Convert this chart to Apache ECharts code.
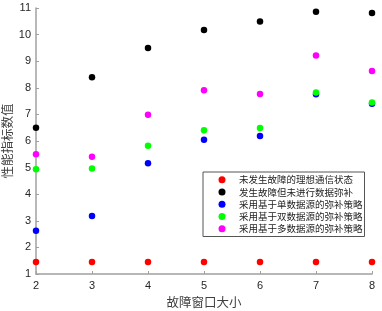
<!DOCTYPE html>
<html>
<head>
<meta charset="utf-8">
<script src="https://cdn.jsdelivr.net/npm/echarts@6/dist/echarts.min.js"></script>
<style>html,body{margin:0;padding:0;background:#fff}#c{width:382px;height:311px}</style>
</head>
<body>
<div id="c"></div>
<script>
const windowSizes = [2, 3, 4, 5, 6, 7, 8];
const seriesNames = ['未发生故障的理想通信状态', '发生故障但未进行数据弥补', '采用基于单数据源的弥补策略', '采用基于双数据源的弥补策略', '采用基于多数据源的弥补策略'];
const idealValues = [1.45, 1.45, 1.45, 1.45, 1.45, 1.45, 1.45];
const noCompValues = [6.5, 8.4, 9.5, 10.17, 10.49, 10.86, 10.81];
const singleValues = [2.63, 3.18, 5.16, 6.05, 6.19, 7.76, 7.40];
const doubleValues = [4.94, 4.97, 5.82, 6.40, 6.49, 7.82, 7.45];
const multiValues = [5.5, 5.41, 6.99, 7.91, 7.77, 9.21, 8.63];
const colors = ['#ff0000', '#000000', '#0000ff', '#00ff00', '#ff00ff'];
const allValues = [idealValues, noCompValues, singleValues, doubleValues, multiValues];

const chart = echarts.init(document.getElementById('c'));
const axisCommon = {
  axisLine: {show: true, lineStyle: {color: '#a0a0a0', width: 1.5}},
  axisTick: {show: true, inside: true, length: 3, lineStyle: {color: '#a0a0a0'}},
  splitLine: {show: false},
  axisLabel: {color: '#262626', fontSize: 11, fontFamily: 'Arial, Liberation Sans'},
  nameTextStyle: {color: '#404040', fontSize: 12.5, fontFamily: 'Noto Sans CJK SC'},
  nameMoveOverlap: false
};
chart.setOption({
  animation: false,
  grid: {left: 36, right: 10, top: 8, bottom: 37, containLabel: false, outerBoundsMode: 'none'},
  xAxis: Object.assign({}, axisCommon, {
    type: 'value', min: 2, max: 8, interval: 1,
    name: '故障窗口大小', nameLocation: 'middle', nameGap: 22,
    axisLabel: Object.assign({}, axisCommon.axisLabel, {margin: 6})
  }),
  yAxis: Object.assign({}, axisCommon, {
    type: 'value', min: 1, max: 11, interval: 1,
    name: '性能指标数值', nameLocation: 'middle', nameGap: 22.5, nameRotate: 90,
    axisLabel: Object.assign({}, axisCommon.axisLabel, {margin: 5})
  }),
  legend: {
    left: 203, top: 172, orient: 'vertical',
    padding: [2, 2, 2, 15.5],
    itemWidth: 7, itemHeight: 7, itemGap: 1,
    borderColor: '#555', borderWidth: 1,
    icon: 'circle',
    textStyle: {fontSize: 9.5, lineHeight: 11.3, color: '#222', fontFamily: 'Noto Sans CJK SC', padding: [0, 0, 0, 8.5]},
    data: seriesNames
  },
  series: seriesNames.map((n, i) => ({
    name: n, type: 'scatter', symbol: 'circle', symbolSize: 6.5,
    itemStyle: {color: colors[i], opacity: 1},
    data: windowSizes.map((x, j) => [x, allValues[i][j]])
  }))
});
</script>
</body>
</html>
